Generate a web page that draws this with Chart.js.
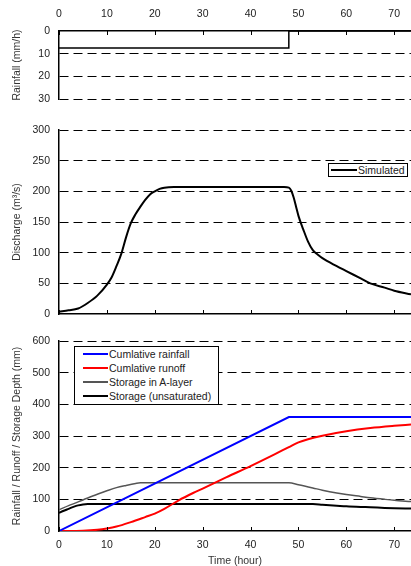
<!DOCTYPE html>
<html>
<head>
<meta charset="utf-8">
<script src="https://cdn.jsdelivr.net/npm/chart.js@4.4.1/dist/chart.umd.min.js"></script>
<style>
  body { margin: 0; background: #fff; }
  #wrap { position: relative; width: 411px; height: 566px; overflow: hidden; font-family: "Liberation Sans", Arial, sans-serif; }
  canvas { position: absolute; left: 0; }
  .legend { position: absolute; background: #fff; border: 1px solid #000; box-sizing: border-box; font-size: 10.5px; color: #222; }
  .legend .row { display: flex; align-items: center; height: 14px; white-space: nowrap; }
  .legend .swatch { display: inline-block; margin-right: 1px; }
</style>
</head>
<body>
<div id="wrap">
  <canvas id="rain" width="411" height="112" style="top:0"></canvas>
  <canvas id="flow" width="411" height="206" style="top:118px"></canvas>
  <canvas id="depth" width="411" height="236" style="top:330px"></canvas>
  <div id="legFlow" class="legend" style="left:328px;top:163px;width:80px;height:14px;padding-left:2px"></div>
  <div id="legDepth" class="legend" style="left:74px;top:346px;width:145px;height:59px;padding-left:8px"></div>
</div>
<script>
/* hydrograph panels: rainfall / discharge / cumulative depths */

const TIME_MAX = 73.5;
const timeTicks = [0, 10, 20, 30, 40, 50, 60, 70];

// rainfall intensity (mm/h), step shape
const rainHours = [0, 48, 48, TIME_MAX];
const rainIntensity = [7.5, 7.5, 0, 0];
const rainTicks = [0, 10, 20, 30];

// simulated discharge (m3/s)
const flowHours = [0, 2, 4, 6, 8, 10, 11, 12, 13, 14, 15, 16, 17, 18, 19, 20, 21, 22, 24, 30, 40, 47,
  48, 48.5, 49, 49.5, 50, 51, 52, 53, 54, 55, 58, 60, 63, 65, 68, 70, TIME_MAX];
const flowValues = [4, 6, 9, 18, 30, 48, 60, 78, 98, 125, 148, 163, 175, 186, 195, 200, 204, 206, 207, 207, 207, 207,
  206, 201, 190, 175, 160, 138, 118, 104, 97, 91, 78, 70, 58, 50, 43, 38, 32];
const flowTicks = [0, 50, 100, 150, 200, 250, 300];

// cumulative depths (mm)
const cumRainHours = [0, 48, TIME_MAX];
const cumRain = [0, 360, 360];
const runoffHours = [0, 5, 8, 10, 12, 15, 18, 20, 22, 25, 28, 30, 35, 40, 45, 48, 50, 52, 55, 60, 65, 70, TIME_MAX];
const cumRunoff = [0, 1, 4, 8, 14, 28, 44, 55, 70, 97, 120, 134, 170, 205, 242, 265, 280, 290, 301, 315, 325, 332, 336];
const aLayerHours = [0, 2, 5, 8, 10, 12, 14, 16, 17, 48, 50, 53, 55, 58, 60, 63, 65, 68, 70, TIME_MAX];
const aLayer = [67, 80, 98, 116, 127, 137, 144, 150, 152, 152, 146, 136, 129, 120, 115, 109, 105, 100, 97, 93];
const unsatHours = [0, 1, 2, 3, 4, 5, 6, 53, 55, 58, 60, 63, 65, 68, 70, TIME_MAX];
const unsat = [57, 64, 70, 76, 81, 84, 85, 85, 83, 80, 78, 76, 75, 73, 72, 71];
const depthTicks = [0, 100, 200, 300, 400, 500, 600];

Chart.defaults.font.family = '"Liberation Sans", Arial, sans-serif';
Chart.defaults.font.size = 10.5;
Chart.defaults.color = "#222";

const pts = (xs, ys) => xs.map((x, i) => ({ x, y: ys[i] }));

// x ticks drawn inward from the axis line
const inwardTicks = {
  id: "inwardTicks",
  afterDraw(chart) {
    const xs = chart.scales.x;
    const ctx = chart.ctx;
    const atTop = xs.options.position === "top";
    const y0 = atTop ? chart.chartArea.top : chart.chartArea.bottom;
    ctx.save();
    ctx.strokeStyle = "#000";
    ctx.lineWidth = 1;
    xs.ticks.forEach((t) => {
      const px = Math.round(xs.getPixelForValue(t.value)) + 0.5;
      ctx.beginPath();
      ctx.moveTo(px, y0);
      ctx.lineTo(px, atTop ? y0 + 4 : y0 - 4);
      ctx.stroke();
    });
    ctx.restore();
  }
};

function xAxis(position, height, showLabels, title) {
  return {
    type: "linear",
    position,
    min: 0,
    max: TIME_MAX,
    afterBuildTicks: (s) => { s.ticks = timeTicks.map((v) => ({ value: v })); },
    afterFit: (s) => { s.height = height; },
    grid: { display: false, drawTicks: false },
    border: { display: true, color: "#000", width: 1.5 },
    ticks: { display: showLabels, padding: position === "top" ? 11 : 8, color: "#222" },
    title: title
      ? { display: true, text: title, color: "#333", font: { size: 10.5, lineHeight: 1 }, padding: { top: 0, bottom: 0 } }
      : { display: false }
  };
}

// tick padding is added to the layout margins, so the label gap comes from an invisible tick instead
function yAxis(min, max, ticks, reverse, title) {
  return {
    type: "linear",
    min,
    max,
    reverse,
    afterBuildTicks: (s) => { s.ticks = ticks.map((v) => ({ value: v })); },
    afterFit: (s) => { s.width = 59; },
    grid: {
      drawTicks: true,
      tickLength: 9,
      tickColor: "rgba(0,0,0,0)",
      lineWidth: 1,
      color: (c) => (c.tick && c.tick.value === 0 ? "rgba(0,0,0,0)" : "#000")
    },
    border: { display: true, color: "#000", width: 1.5, dash: [9, 5] },
    ticks: { padding: 0, color: "#222" },
    title: { display: true, text: title, color: "#333", font: { size: 10.5 }, padding: { top: 11, bottom: 0 } }
  };
}

function lineSet(label, data, color, width, smooth) {
  return {
    label,
    data,
    borderColor: color,
    backgroundColor: color,
    borderWidth: width,
    pointRadius: 0,
    fill: false,
    cubicInterpolationMode: smooth ? "monotone" : "default",
    tension: 0
  };
}

function makeChart(id, datasets, scales, padding) {
  return new Chart(document.getElementById(id), {
    type: "line",
    data: { datasets },
    options: {
      responsive: false,
      animation: false,
      devicePixelRatio: 1,
      layout: { padding },
      plugins: { legend: { display: false }, tooltip: { enabled: false } },
      scales
    },
    plugins: [inwardTicks]
  });
}

makeChart(
  "rain",
  [lineSet("Rainfall", pts(rainHours, rainIntensity), "#000", 1.5, false)],
  { x: xAxis("top", 31, true), y: yAxis(0, 30, rainTicks, true, "Rainfall (mm/h)") },
  { top: 0, bottom: 13, left: 0, right: 0 }
);

const flowSets = [lineSet("Simulated", pts(flowHours, flowValues), "#000", 2, true)];
makeChart(
  "flow",
  flowSets,
  { x: xAxis("bottom", 10, false), y: yAxis(0, 300, flowTicks, false, "Discharge (m³/s)") },
  { top: 12, bottom: 0, left: 0, right: 0 }
);

const depthSets = [
  lineSet("Cumlative rainfall", pts(cumRainHours, cumRain), "#0000ff", 2, false),
  lineSet("Cumlative runoff", pts(runoffHours, cumRunoff), "#ff0000", 2, true),
  lineSet("Storage in A-layer", pts(aLayerHours, aLayer), "#555555", 1.5, true),
  lineSet("Storage (unsaturated)", pts(unsatHours, unsat), "#000000", 2, true)
];
makeChart(
  "depth",
  depthSets,
  { x: xAxis("bottom", 35, true, "Time (hour)"), y: yAxis(0, 600, depthTicks, false, "Rainfall / Runoff / Storage Depth (mm)") },
  { top: 11, bottom: 0, left: 0, right: 0 }
);

// boxed legends placed inside the plot areas
function fillLegend(id, sets, swatchWidth) {
  const box = document.getElementById(id);
  sets.forEach((ds) => {
    const row = document.createElement("div");
    row.className = "row";
    const sw = document.createElement("span");
    sw.className = "swatch";
    sw.style.width = swatchWidth + "px";
    sw.style.height = ds.borderWidth + "px";
    sw.style.background = ds.borderColor;
    row.appendChild(sw);
    row.appendChild(document.createTextNode(ds.label));
    box.appendChild(row);
  });
}
fillLegend("legFlow", flowSets, 26);
document.querySelector("#legFlow .row").style.height = "12px";
fillLegend("legDepth", depthSets, 25);
</script>
</body>
</html>
